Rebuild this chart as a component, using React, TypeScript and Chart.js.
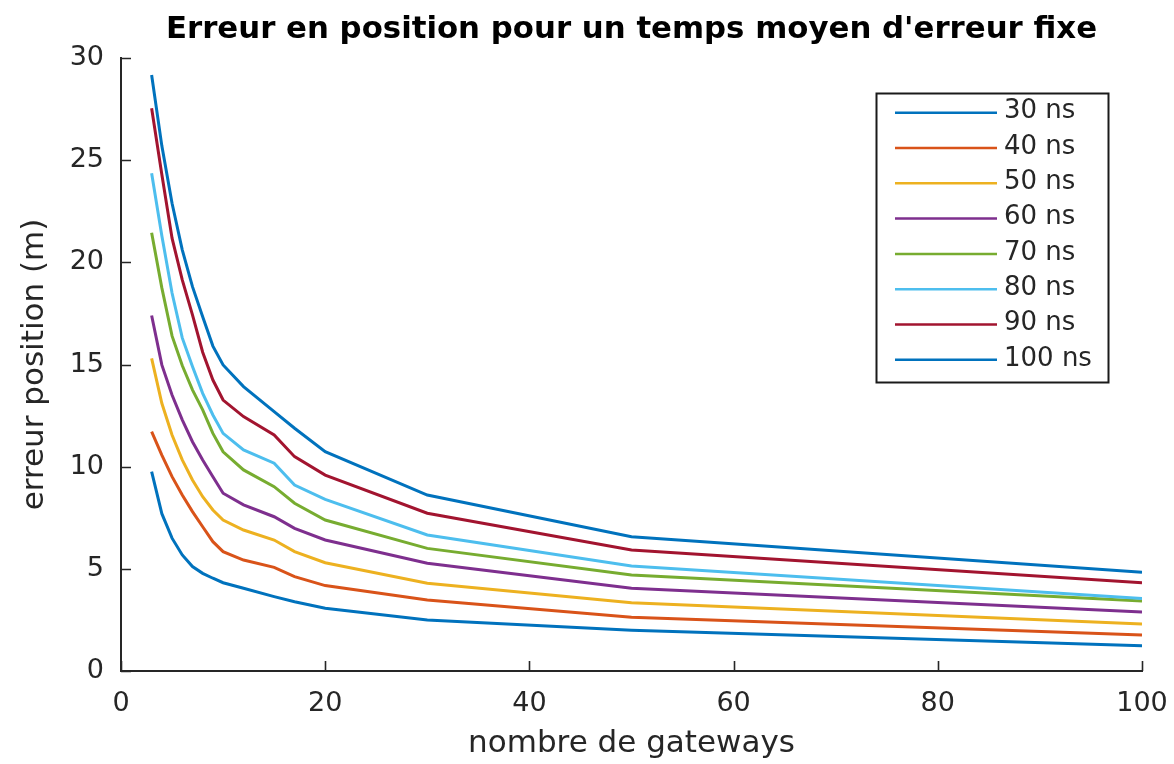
import React, { useEffect, useRef } from "react";
import { Chart, registerables } from "chart.js";

Chart.register(...registerables);

const gateways = [3, 4, 5, 6, 7, 8, 9, 10, 12, 15, 17, 20, 30, 50, 100];

const err30 = [9.76, 7.7, 6.5, 5.68, 5.11, 4.78, 4.54, 4.32, 4.05, 3.64, 3.39, 3.07, 2.5, 2.0, 1.23];
const err40 = [11.71, 10.57, 9.51, 8.61, 7.8, 7.06, 6.33, 5.84, 5.43, 5.07, 4.62, 4.18, 3.48, 2.63, 1.76];
const err50 = [15.3, 13.1, 11.55, 10.33, 9.35, 8.53, 7.88, 7.39, 6.9, 6.41, 5.84, 5.3, 4.29, 3.34, 2.3];
const err60 = [17.4, 14.98, 13.51, 12.29, 11.22, 10.33, 9.51, 8.7, 8.13, 7.55, 6.98, 6.41, 5.27, 4.05, 2.89];
const err70 = [21.45, 18.75, 16.4, 14.95, 13.76, 12.78, 11.63, 10.73, 9.84, 9.02, 8.21, 7.39, 6.0, 4.7, 3.43];
const err80 = [24.36, 21.3, 18.5, 16.3, 14.9, 13.59, 12.53, 11.63, 10.82, 10.17, 9.1, 8.4, 6.66, 5.14, 3.55];
const err90 = [27.54, 24.3, 21.18, 19.14, 17.43, 15.6, 14.24, 13.26, 12.45, 11.55, 10.49, 9.59, 7.72, 5.92, 4.32];
const err100 = [29.17, 25.7, 22.89, 20.61, 18.81, 17.34, 15.9, 14.98, 13.92, 12.69, 11.88, 10.73, 8.61, 6.57, 4.83];

const seriesLabels = ["30 ns", "40 ns", "50 ns", "60 ns", "70 ns", "80 ns", "90 ns", "100 ns"];
const seriesValues = [err30, err40, err50, err60, err70, err80, err90, err100];
const seriesColors = ["#0072BD", "#D95319", "#EDB120", "#7E2F8E", "#77AC30", "#4DBEEE", "#A2142F", "#0072BD"];

const titleText = "Erreur en position pour un temps moyen d'erreur fixe";
const xLabel = "nombre de gateways";
const yLabel = "erreur position (m)";

const AXIS = "#262626";
const FONT = "'DejaVu Sans', 'Liberation Sans', sans-serif";

const decor = {
  id: "matlabDecor",
  afterDraw(chart: any) {
    const { ctx, chartArea, scales } = chart;
    const xs = scales.x;
    const ys = scales.y;
    ctx.save();
    // inward tick marks
    ctx.strokeStyle = AXIS;
    ctx.lineWidth = 1.6;
    ctx.beginPath();
    xs.ticks.forEach((t: any) => {
      const px = Math.round(xs.getPixelForValue(t.value)) + 0.5;
      ctx.moveTo(px, chartArea.bottom);
      ctx.lineTo(px, chartArea.bottom - 10);
    });
    ys.ticks.forEach((t: any) => {
      const py = Math.round(ys.getPixelForValue(t.value)) + 0.5;
      ctx.moveTo(chartArea.left, py);
      ctx.lineTo(chartArea.left + 10, py);
    });
    ctx.stroke();

    // title
    ctx.fillStyle = "#000";
    ctx.font = "bold 30.8px " + FONT;
    ctx.textAlign = "center";
    ctx.textBaseline = "alphabetic";
    ctx.fillText(titleText, (chartArea.left + chartArea.right) / 2, 38);

    // legend
    const bx = 876.5, by = 93.5, bw = 232, bh = 289;
    ctx.fillStyle = "#fff";
    ctx.fillRect(bx, by, bw, bh);
    ctx.strokeStyle = "#1a1a1a";
    ctx.lineWidth = 2;
    ctx.strokeRect(bx, by, bw, bh);
    ctx.font = "26px " + FONT;
    ctx.textAlign = "left";
    ctx.textBaseline = "middle";
    chart.data.datasets.forEach((ds: any, i: number) => {
      const y = 112.7 + i * 35.3;
      ctx.strokeStyle = ds.borderColor;
      ctx.lineWidth = 2.5;
      ctx.beginPath();
      ctx.moveTo(895, y);
      ctx.lineTo(997, y);
      ctx.stroke();
      ctx.fillStyle = AXIS;
      ctx.fillText(ds.label, 1004, y - 1);
    });
    ctx.restore();
  },
};

export default function App() {
  const ref = useRef<HTMLCanvasElement | null>(null);
  useEffect(() => {
    if (!ref.current) return;
    const datasets = seriesValues.map((vals, i) => ({
      label: seriesLabels[i],
      data: gateways.map((g, j) => ({ x: g, y: vals[j] })),
      borderColor: seriesColors[i],
      backgroundColor: seriesColors[i],
      borderWidth: 3,
      pointRadius: 0,
      tension: 0,
      fill: false,
      order: seriesValues.length - 1 - i,
    }));
    const chart = new Chart(ref.current, {
      type: "line",
      data: { datasets },
      options: {
        animation: false,
        responsive: false,
        devicePixelRatio: 1,
        layout: { padding: { top: 58, right: 32, left: 0, bottom: 0 } },
        plugins: {
          legend: { display: false },
          title: { display: false },
          tooltip: { enabled: false },
        },
        scales: {
          x: {
            type: "linear",
            min: 0,
            max: 100,
            ticks: {
              stepSize: 20,
              color: AXIS,
              font: { family: FONT, size: 27 },
              padding: 17,
              maxRotation: 0,
            },
            grid: { display: false, drawTicks: false },
            border: { display: true, color: AXIS, width: 2 },
            title: {
              display: true,
              text: xLabel,
              color: AXIS,
              font: { family: FONT, size: 31 },
              padding: { top: 0, bottom: 1 },
            },
            afterFit: (s: any) => {
              s.height = 93;
              s.paddingLeft = 0;
              s.paddingRight = 0;
            },
          },
          y: {
            type: "linear",
            min: 0,
            max: 30,
            ticks: {
              stepSize: 5,
              color: AXIS,
              font: { family: FONT, size: 27 },
              padding: 17,
            },
            grid: { display: false, drawTicks: false },
            border: { display: true, color: AXIS, width: 2 },
            title: {
              display: true,
              text: yLabel,
              color: AXIS,
              font: { family: FONT, size: 31 },
              padding: { top: 16, bottom: 0 },
            },
            afterFit: (s: any) => {
              s.width = 121;
              s.paddingTop = 0;
              s.paddingBottom = 0;
            },
          },
        },
      },
      plugins: [decor],
    });
    return () => chart.destroy();
  }, []);
  return (
    <div style={{ position: "fixed", left: 0, top: 0, width: 1174, height: 764, background: "#fff" }}>
      <canvas ref={ref} width={1174} height={764} style={{ display: "block" }} />
    </div>
  );
}
